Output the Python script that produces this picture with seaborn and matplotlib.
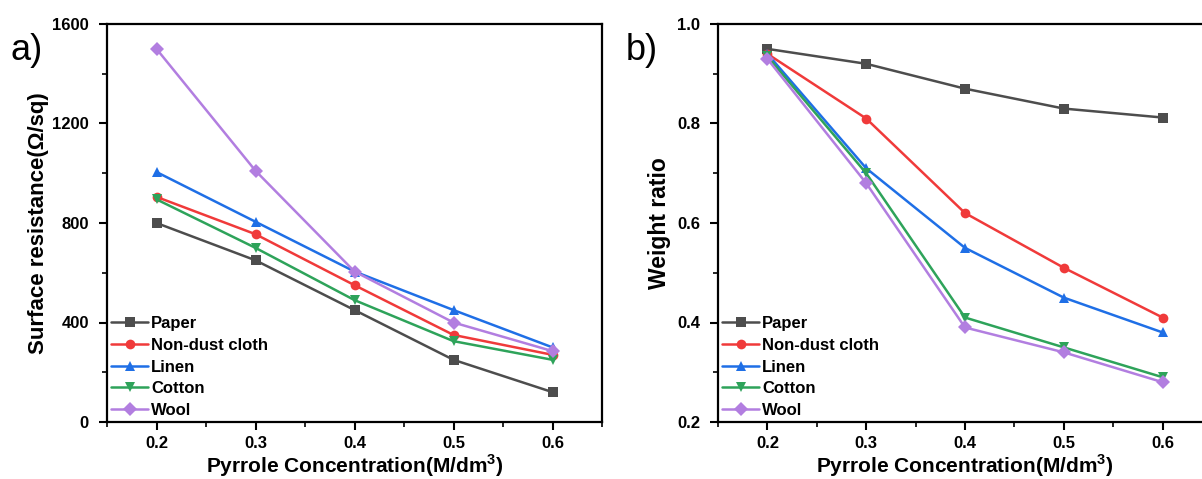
import numpy as np
import pandas as pd
import matplotlib
matplotlib.use("Agg")
import matplotlib.pyplot as plt
import seaborn as sns
from matplotlib.ticker import MultipleLocator

concentration = [0.2, 0.3, 0.4, 0.5, 0.6]
series_names = ["Paper", "Non-dust cloth", "Linen", "Cotton", "Wool"]

resist_paper = [800, 650, 450, 250, 120]
resist_nondust = [905, 755, 550, 350, 270]
resist_linen = [1005, 805, 605, 450, 300]
resist_cotton = [895, 700, 490, 325, 250]
resist_wool = [1500, 1010, 605, 400, 285]

weight_paper = [0.95, 0.92, 0.87, 0.83, 0.812]
weight_nondust = [0.94, 0.81, 0.62, 0.51, 0.41]
weight_linen = [0.94, 0.71, 0.55, 0.45, 0.38]
weight_cotton = [0.935, 0.70, 0.41, 0.35, 0.29]
weight_wool = [0.93, 0.68, 0.39, 0.34, 0.28]

colors = ["#4d4d4d", "#f03a3a", "#1f6fe6", "#2ea35a", "#b27ee0"]
markers = ["s", "o", "^", "v", "D"]

def long_df(vals):
    rows = []
    for name, v in zip(series_names, vals):
        for x, y in zip(concentration, v):
            rows.append({"x": x, "y": y, "Sample": name})
    return pd.DataFrame(rows)

df_a = long_df([resist_paper, resist_nondust, resist_linen, resist_cotton, resist_wool])
df_b = long_df([weight_paper, weight_nondust, weight_linen, weight_cotton, weight_wool])

sns.set_style("ticks")
plt.rcParams["font.family"] = ["Liberation Sans", "DejaVu Sans"]
plt.rcParams["mathtext.fontset"] = "custom"
plt.rcParams["mathtext.rm"] = "Liberation Sans"
plt.rcParams["mathtext.bf"] = "Liberation Sans:bold"
for k in ["text.color", "axes.labelcolor", "xtick.color", "ytick.color", "axes.edgecolor"]:
    plt.rcParams[k] = "black"

fig = plt.figure(figsize=(12.02, 4.79), dpi=100)
W, H = 1202, 479
ax1 = fig.add_axes([107 / W, 1 - 422 / H, (602 - 107) / W, (422 - 24) / H])
ax2 = fig.add_axes([718 / W, 1 - 422 / H, (1212 - 718) / W, (422 - 24) / H])

pal = dict(zip(series_names, colors))
mk = dict(zip(series_names, markers))

for ax, df in [(ax1, df_a), (ax2, df_b)]:
    sns.lineplot(data=df, x="x", y="y", hue="Sample", style="Sample",
                 palette=pal, markers=mk, dashes=False, ax=ax,
                 linewidth=1.8, markersize=7, markeredgewidth=0,
                 hue_order=series_names, style_order=series_names)
    ax.set_xlim(0.15, 0.65)
    ax.xaxis.set_minor_locator(MultipleLocator(0.05))
    ax.set_xticks(concentration)
    ax.set_xticklabels(["0.2", "0.3", "0.4", "0.5", "0.6"])
    ax.tick_params(axis="both", which="major", direction="out", length=6, width=1.5,
                   labelsize=12)
    ax.tick_params(axis="x", which="major", pad=4)
    ax.tick_params(axis="y", which="major", pad=7)
    ax.tick_params(axis="both", which="minor", direction="out", length=3.5, width=1.2)
    for s in ax.spines.values():
        s.set_linewidth(1.6)
        s.set_color("black")
    ax.set_xlabel("Pyrrole Concentration(M/dm$^\\mathbf{3}$)", fontsize=15,
                  fontweight="bold", labelpad=1)
    leg = ax.legend(loc="lower left", bbox_to_anchor=(0.0, 0.0), frameon=False,
                    prop={"weight": "bold", "size": 12}, handlelength=2.2,
                    handletextpad=0.2, labelspacing=0.4, borderaxespad=0.1,
                    borderpad=0.15)

ax1.set_ylim(0, 1600)
ax1.yaxis.set_minor_locator(MultipleLocator(200))
ax1.set_yticks([0, 400, 800, 1200, 1600])
ax1.set_yticklabels(["0", "400", "800", "1200", "1600"])
ax1.set_ylabel("Surface resistance(Ω/sq)", fontsize=16, fontweight="bold", labelpad=2)

ax2.set_ylim(0.2, 1.0)
ax2.yaxis.set_minor_locator(MultipleLocator(0.1))
ax2.set_yticks([0.2, 0.4, 0.6, 0.8, 1.0])
ax2.set_yticklabels(["0.2", "0.4", "0.6", "0.8", "1.0"])
ax2.set_ylabel("Weight ratio", fontsize=16.5, fontweight="bold", labelpad=4)

for ax in (ax1, ax2):
    for lab in ax.get_xticklabels() + ax.get_yticklabels():
        lab.set_fontweight("bold")

fig.text(10 / W, 1 - 60 / H, "a)", fontsize=26)
fig.text(626 / W, 1 - 60 / H, "b)", fontsize=26)

fig.savefig("out.png", dpi=100)
